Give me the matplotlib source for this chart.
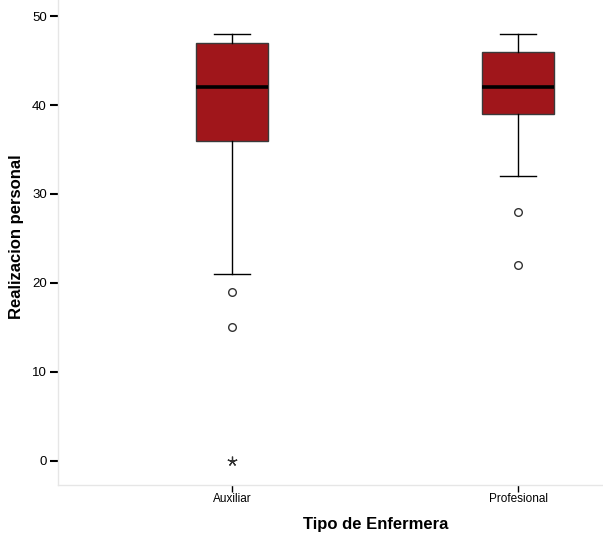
import matplotlib.pyplot as plt

plt.rcParams['font.family'] = ['Liberation Sans', 'DejaVu Sans']

# five-number summaries per nurse type
groups = ['Auxiliar', 'Profesional']
whislo = [21, 32]
q1 = [36, 39]
med = [42, 42]
q3 = [47, 46]
whishi = [48, 48]
outliers = [[19, 15], [28, 22]]
extremes = [[0], []]

stats = []
for i in range(len(groups)):
    stats.append({'label': groups[i], 'whislo': whislo[i], 'q1': q1[i],
                  'med': med[i], 'q3': q3[i], 'whishi': whishi[i],
                  'fliers': outliers[i]})

fig = plt.figure(figsize=(6.03, 5.40), dpi=100)
ax = fig.add_axes([58 / 603, 55 / 540, 545 / 603, 485 / 540])

pos = [1, 2]
ax.bxp(stats, positions=pos, widths=0.25, patch_artist=True,
       boxprops=dict(facecolor='#A0161B', edgecolor='#3a3a3a', linewidth=1),
       medianprops=dict(color='black', linewidth=2.6),
       whiskerprops=dict(color='black', linewidth=1),
       capprops=dict(color='black', linewidth=1),
       capwidths=0.125,
       flierprops=dict(marker='o', markersize=5.5, markerfacecolor='white',
                       markeredgecolor='#333333', markeredgewidth=1))

for i in range(len(groups)):
    if extremes[i]:
        ax.plot([pos[i]] * len(extremes[i]), extremes[i], linestyle='none',
                marker=(5, 2, 0), markersize=7, color='#333333', markeredgewidth=0.9)

ax.set_xlim(0.392, 2.297)
ax.set_ylim(-2.7, 51.8)
ax.set_yticks([0, 10, 20, 30, 40, 50])
ax.set_xticks(pos)
ax.set_xticklabels(groups)

for s in ['top', 'right']:
    ax.spines[s].set_visible(False)
for s in ['left', 'bottom']:
    ax.spines[s].set_color('#e6e6e6')
    ax.spines[s].set_linewidth(1)

ax.tick_params(axis='y', length=6, width=1.5, color='black', labelsize=9.5, pad=2)
ax.tick_params(axis='x', length=5, width=1, color='black', labelsize=8.5, pad=1)

fig.text(17 / 603, 1 - 237 / 540, 'Realizacion personal', rotation=90,
         ha='center', va='center', fontsize=12, fontweight='bold')
fig.text(376 / 603, 1 - 525 / 540, 'Tipo de Enfermera',
         ha='center', va='center', fontsize=12, fontweight='bold')

fig.savefig('out.png', dpi=100)
